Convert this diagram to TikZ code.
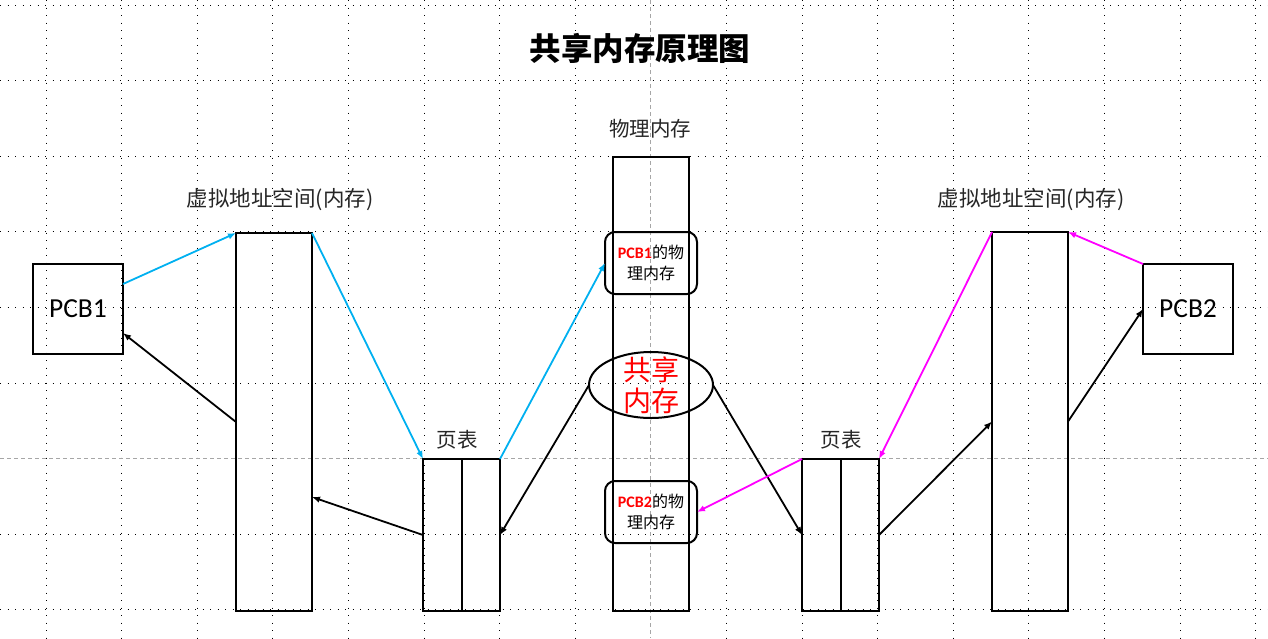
\documentclass[tikz,border=0pt]{standalone}
\usepackage{fontspec}
\setmainfont{Noto Sans CJK SC}
\newfontfamily\carlito{Carlito}
\usetikzlibrary{arrows.meta,shapes.geometric,calc}
\definecolor{cyanline}{HTML}{00B0F0}
\definecolor{magline}{HTML}{FF00FF}
\begin{document}
\begin{tikzpicture}[x=1pt,y=-1pt,
  gridline/.style={line width=0.8pt, dash pattern=on 0.9pt off 6.6pt, black},
  guideline/.style={line width=0.7pt, dash pattern=on 4pt off 3pt, gray!70},
  box/.style={draw, line width=2pt, inner sep=0pt, outer sep=0pt, anchor=north west},
  rbox/.style={box, rounded corners=10pt},
  lbl/.style={font=\fontsize{20.5}{24}\selectfont, text=black!85},
  arr/.style={line width=1.8pt, -{Latex[length=8pt,width=6.5pt]}},
  cy/.style={arr, cyanline},
  mg/.style={arr, magline},
  bk/.style={arr, black}
]
\useasboundingbox (0,0) rectangle (1268,638);
% grid
\foreach \i in {0,...,16} {
  \pgfmathsetmacro{\xx}{46+75.6*\i}
  \ifnum\i=8
    \draw[guideline] (\xx,0) -- (\xx,638);
  \else
    \draw[gridline] (\xx,0) -- (\xx,638);
  \fi
}
\foreach \j in {0,...,8} {
  \pgfmathsetmacro{\yy}{5+75.6*\j}
  \ifnum\j=6
    \draw[guideline] (0,\yy) -- (1268,\yy);
  \else
    \draw[gridline] (0,\yy) -- (1268,\yy);
  \fi
}
% title and labels
\node[font=\fontsize{31.5}{36}\selectfont\bfseries] (title) at (640,48) {共享内存原理图};
\node[lbl] (physlbl) at (650,129) {物理内存};
\node[font=\fontsize{21.5}{24}\selectfont, text=black!85] (va1lbl) at (280,200) {虚拟地址空间(内存)};
\node[font=\fontsize{21.5}{24}\selectfont, text=black!85] (va2lbl) at (1031,200) {虚拟地址空间(内存)};
\node[lbl] (pt1lbl) at (457,440) {页表};
\node[lbl] (pt2lbl) at (841,440) {页表};
% boxes
\node[box, minimum width=90pt, minimum height=90pt] (pcb1) at (33,264) {};
\node[font=\fontsize{27.5}{30}\selectfont\carlito] (pcb1t) at (pcb1.center) {PCB1};
\node[box, minimum width=90pt, minimum height=90pt] (pcb2) at (1143,264) {};
\node[font=\fontsize{27.5}{30}\selectfont\carlito] (pcb2t) at (pcb2.center) {PCB2};
\node[box, minimum width=76pt, minimum height=378pt] (va1) at (236,233) {};
\node[box, minimum width=76pt, minimum height=379pt] (va2) at (992,232) {};
\node[box, minimum width=77pt, minimum height=152pt] (pt1) at (423,459) {};
\node[box, minimum width=77pt, minimum height=152pt] (pt2) at (802,459) {};
\draw[line width=2pt] ([xshift=0.5pt]pt1.north) -- ([xshift=0.5pt]pt1.south);
\draw[line width=2pt] ([xshift=0.5pt]pt2.north) -- ([xshift=0.5pt]pt2.south);
\node[box, minimum width=76pt, minimum height=454pt] (phys) at (613,157) {};
\node[rbox, minimum width=92pt, minimum height=62pt] (phys1) at (605,232) {};
\node[align=center, font=\fontsize{16}{21}\selectfont] (phys1t) at (phys1.center) {\textcolor{red}{\carlito\bfseries PCB1}的物\\理内存};
\node[rbox, minimum width=92pt, minimum height=62pt] (phys2) at (605,481) {};
\node[align=center, font=\fontsize{16}{21}\selectfont] (phys2t) at (phys2.center) {\textcolor{red}{\carlito\bfseries PCB2}的物\\理内存};
\node[draw, line width=2pt, ellipse, minimum width=124pt, minimum height=66pt, inner sep=0pt, outer sep=0pt] (shm) at (651,385) {};
\node[align=center, text=red, font=\fontsize{28}{31}\selectfont] (shmt) at (shm.center) {共享\\内存};
% cyan arrows
\draw[cy] ([yshift=25pt]pcb1.east) -- (va1.north west);
\draw[cy] (va1.north east) -- (pt1.north west);
\draw[cy] (pt1.north east) -- (phys1.west);
% black arrows
\draw[bk] (va1.west) -- ([yshift=-24pt]pcb1.east);
\draw[bk] (pt1.west) -- ([yshift=-75pt]va1.east);
\draw[bk] (shm.west) -- (pt1.east);
\draw[bk] (shm.east) -- (pt2.west);
\draw[bk] (pt2.east) -- (va2.west);
\draw[bk] (va2.east) -- (pcb2.west);
% magenta arrows
\draw[mg] (pcb2.north west) -- (va2.north east);
\draw[mg] (va2.north west) -- (pt2.north east);
\draw[mg] (pt2.north west) -- (phys2.east);
\end{tikzpicture}
\end{document}
